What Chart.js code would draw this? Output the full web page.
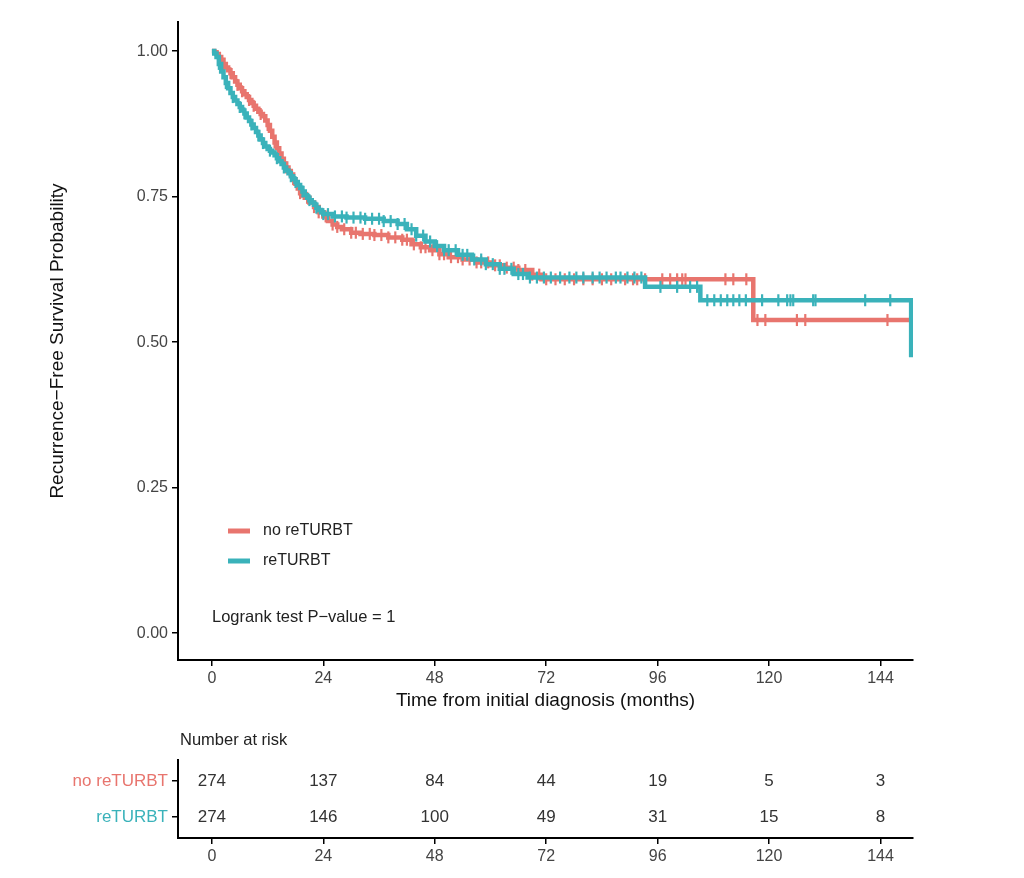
<!DOCTYPE html>
<html>
<head>
<meta charset="utf-8">
<script src="https://cdn.jsdelivr.net/npm/chart.js@4"></script>
<style>
  body { margin: 0; background: #fff; }
  #wrap { position: relative; width: 1024px; height: 878px; }
  #km { position: absolute; left: 0; top: 0; }
  #risk { position: absolute; left: 0; top: 715px; }
</style>
</head>
<body>
<div id="wrap">
  <canvas id="km" width="1024" height="715"></canvas>
  <canvas id="risk" width="1024" height="163"></canvas>
</div>
<script>
const groups = ['no reTURBT', 'reTURBT'];
const colRed = 'rgb(232,117,110)';
const colTeal = 'rgb(58,178,186)';

// Kaplan-Meier steps (months, survival)
const noReTime = [0, 0.5, 1, 1.5, 2, 2.5, 3, 3.5, 4, 4.5, 5, 5.5, 6, 6.5, 7, 7.5, 8, 8.5, 9, 9.5, 10, 10.5, 11, 11.5, 12, 12.5, 13, 13.5, 14, 14.5, 15, 15.5, 16, 16.5, 17, 17.5, 18, 18.5, 19, 19.5, 20, 21, 22, 23, 24, 25, 26, 27, 28, 30, 32, 35, 38, 41, 43, 45, 47, 49, 51, 54, 57, 60, 63, 66, 69, 71, 116.6, 150.4];
const noReSurv = [1.0, 0.998, 0.995, 0.99, 0.985, 0.978, 0.972, 0.967, 0.962, 0.955, 0.948, 0.942, 0.936, 0.931, 0.926, 0.921, 0.916, 0.911, 0.906, 0.901, 0.896, 0.892, 0.888, 0.881, 0.873, 0.863, 0.853, 0.843, 0.833, 0.824, 0.815, 0.807, 0.800, 0.794, 0.788, 0.780, 0.772, 0.764, 0.756, 0.752, 0.748, 0.740, 0.732, 0.723, 0.716, 0.708, 0.702, 0.698, 0.694, 0.688, 0.686, 0.684, 0.680, 0.676, 0.668, 0.663, 0.658, 0.651, 0.646, 0.642, 0.637, 0.632, 0.628, 0.624, 0.616, 0.608, 0.538, 0.538];

const reTime = [0, 0.5, 1, 1.5, 2, 2.5, 3, 3.5, 4, 4.5, 5, 5.5, 6, 6.5, 7, 7.5, 8, 8.5, 9, 9.5, 10, 10.5, 11, 11.5, 12, 12.5, 13, 13.5, 14, 14.5, 15, 15.5, 16, 16.5, 17, 17.5, 18, 18.5, 19, 19.5, 20, 20.5, 21, 21.5, 22, 22.5, 23, 23.5, 24, 26, 29, 33, 37, 40, 42, 44, 46, 48, 50, 53, 56, 59, 62, 65, 68, 93.3, 105.2, 150.6];
const reSurv = [1.0, 0.996, 0.99, 0.978, 0.965, 0.955, 0.945, 0.936, 0.928, 0.921, 0.915, 0.909, 0.904, 0.898, 0.893, 0.886, 0.880, 0.874, 0.868, 0.861, 0.855, 0.848, 0.842, 0.836, 0.832, 0.829, 0.826, 0.821, 0.816, 0.811, 0.806, 0.800, 0.795, 0.790, 0.785, 0.780, 0.775, 0.770, 0.765, 0.759, 0.753, 0.748, 0.744, 0.740, 0.736, 0.731, 0.727, 0.723, 0.720, 0.716, 0.714, 0.712, 0.708, 0.703, 0.694, 0.683, 0.673, 0.665, 0.658, 0.650, 0.642, 0.634, 0.626, 0.617, 0.611, 0.595, 0.572, 0.474];

// censoring times (months)
const noReCensor = [2.5, 4, 5.5, 6.5, 8, 9, 10.5, 12, 13.5, 15, 16, 17.5, 19, 20.5, 22, 23, 24.5, 26, 27, 28.5, 30, 31, 32.5, 34, 35, 36.5, 38, 39.5, 41, 42, 43.5, 45, 46, 47.5, 49, 50, 51.5, 53, 54, 55.5, 57, 58, 59.5, 61, 62, 63.5, 65, 66, 67.5, 69, 70.5, 72, 74, 76, 78, 80, 82, 84, 86, 89, 90.7, 91.6, 93.3, 97, 98.7, 100.2, 101.3, 102, 110.6, 112.3, 115.1, 117.5, 119.2, 126, 127.8, 145.5];
const reCensor = [1.5, 3, 4.5, 6, 7, 8.5, 10, 11, 12.5, 14, 15.5, 17, 18, 19.5, 21, 22.5, 24, 25, 26.5, 28, 29, 30.5, 32, 33, 34.5, 36, 37, 38.5, 40, 41.5, 43, 44, 45.5, 47, 48.5, 50, 51, 52.5, 54, 55, 56.5, 58, 59, 60.5, 62, 63, 64.5, 66, 67, 68.5, 70, 71.5, 73, 75, 77, 78.5, 80, 82, 83.5, 85, 87, 88, 89.5, 91, 92.5, 96.6, 100.2, 103, 104.5, 106.7, 108.2, 109.6, 111, 112.3, 113.6, 115, 118.5, 122, 123.9, 124.6, 125.2, 129.5, 130, 140.7, 146.1];

const riskTimes = [0, 24, 48, 72, 96, 120, 144];
const riskNoRe = [274, 137, 84, 44, 19, 5, 3];
const riskRe = [274, 146, 100, 49, 31, 15, 8];

const xTicks = [0, 24, 48, 72, 96, 120, 144];
const yTicks = [0, 0.25, 0.5, 0.75, 1];

function survAt(times, surv, t) {
  let s = surv[0];
  for (let i = 0; i < times.length; i++) {
    if (times[i] <= t) s = surv[i];
  }
  return s;
}
function pts(times, vals) {
  return times.map((t, i) => ({ x: t, y: vals[i] }));
}
function censorPts(cens, times, surv) {
  return cens.map(t => ({ x: t, y: survAt(times, surv, t) }));
}

const FAM = 'Liberation Sans, Arial, sans-serif';
const tickFont = { family: FAM, size: 16 };
const titleFont = { family: FAM, size: 19 };

const annot = {
  id: 'annot',
  afterDraw(chart) {
    const ctx = chart.ctx;
    ctx.save();
    ctx.textBaseline = 'middle';
    ctx.lineWidth = 5;
    ctx.strokeStyle = colRed;
    ctx.beginPath(); ctx.moveTo(228, 531); ctx.lineTo(250, 531); ctx.stroke();
    ctx.strokeStyle = colTeal;
    ctx.beginPath(); ctx.moveTo(228, 561); ctx.lineTo(250, 561); ctx.stroke();
    ctx.fillStyle = '#222';
    ctx.font = '16px ' + FAM;
    ctx.fillText(groups[0], 263, 531);
    ctx.fillText(groups[1], 263, 561);
    ctx.font = '16.5px ' + FAM;
    ctx.fillText('Logrank test P\u2212value = 1', 212, 617);
    ctx.restore();
  }
};

new Chart(document.getElementById('km'), {
  type: 'line',
  data: {
    datasets: [
      { type: 'line', data: pts(reTime, reSurv), borderColor: colTeal, borderWidth: 4.5, stepped: true, pointRadius: 0, fill: false },
      { type: 'scatter', data: censorPts(reCensor, reTime, reSurv), borderColor: colTeal, backgroundColor: colTeal, pointStyle: 'line', rotation: 90, pointRadius: 6, borderWidth: 2.2, showLine: false },
      { type: 'line', data: pts(noReTime, noReSurv), borderColor: colRed, borderWidth: 4.5, stepped: true, pointRadius: 0, fill: false },
      { type: 'scatter', data: censorPts(noReCensor, noReTime, noReSurv), borderColor: colRed, backgroundColor: colRed, pointStyle: 'line', rotation: 90, pointRadius: 6, borderWidth: 2.2, showLine: false }
    ]
  },
  options: {
    responsive: false,
    animation: false,
    layout: { padding: { left: 45, right: 111, top: 22, bottom: 0 } },
    plugins: { legend: { display: false }, tooltip: { enabled: false } },
    scales: {
      x: {
        type: 'linear', min: -7.3, max: 151,
        afterBuildTicks: s => { s.ticks = xTicks.map(v => ({ value: v })); },
        afterFit: s => { s.height = 55; },
        grid: { drawOnChartArea: false, drawTicks: true, tickLength: 6, color: '#000', lineWidth: 1.5 },
        border: { color: '#000', width: 2 },
        ticks: { font: tickFont, color: '#444', padding: 3, maxRotation: 0 },
        title: { display: true, text: 'Time from initial diagnosis (months)', font: titleFont, color: '#111', padding: { top: 0, bottom: 3 } }
      },
      y: {
        type: 'linear', min: -0.046, max: 1.05,
        afterBuildTicks: s => { s.ticks = yTicks.map(v => ({ value: v })); },
        afterFit: s => { s.width = 133; },
        grid: { drawOnChartArea: false, drawTicks: true, tickLength: 6, color: '#000', lineWidth: 1.5 },
        border: { color: '#000', width: 2 },
        ticks: { font: tickFont, color: '#444', padding: 4, callback: v => v.toFixed(2) },
        title: { display: true, text: 'Recurrence\u2212Free Survival Probability', font: titleFont, color: '#111', padding: { top: 1, bottom: 0 } }
      }
    }
  },
  plugins: [annot]
});

const riskText = {
  id: 'riskText',
  afterDatasetsDraw(chart) {
    const ctx = chart.ctx;
    ctx.save();
    ctx.font = '17px ' + FAM;
    ctx.fillStyle = '#333';
    ctx.textAlign = 'center';
    ctx.textBaseline = 'middle';
    chart.data.datasets.forEach((ds, di) => {
      chart.getDatasetMeta(di).data.forEach((pt, i) => {
        ctx.fillText(String(ds.counts[i]), pt.x, pt.y);
      });
    });
    ctx.textAlign = 'left';
    ctx.font = '16.5px ' + FAM;
    ctx.fillStyle = '#222';
    ctx.fillText('Number at risk', chart.chartArea.left + 2, 25);
    ctx.restore();
  }
};

new Chart(document.getElementById('risk'), {
  type: 'scatter',
  data: {
    datasets: [
      { data: riskTimes.map(t => ({ x: t, y: 0 })), counts: riskNoRe, pointRadius: 0 },
      { data: riskTimes.map(t => ({ x: t, y: 1 })), counts: riskRe, pointRadius: 0 }
    ]
  },
  options: {
    responsive: false,
    animation: false,
    layout: { padding: { left: 0, right: 111, top: 45, bottom: 0 } },
    plugins: { legend: { display: false }, tooltip: { enabled: false } },
    scales: {
      x: {
        type: 'linear', min: -7.3, max: 151,
        afterBuildTicks: s => { s.ticks = xTicks.map(v => ({ value: v })); },
        afterFit: s => { s.height = 40; },
        grid: { drawOnChartArea: false, drawTicks: true, tickLength: 6, color: '#000', lineWidth: 1.5 },
        border: { color: '#000', width: 2 },
        ticks: { font: { family: FAM, size: 16 }, color: '#444', padding: 3, maxRotation: 0 }
      },
      y: {
        type: 'linear', reverse: true, min: -0.58, max: 1.58,
        afterBuildTicks: s => { s.ticks = [0, 1].map(v => ({ value: v })); },
        afterFit: s => { s.width = 178; },
        grid: { drawOnChartArea: false, drawTicks: true, tickLength: 6, color: '#000', lineWidth: 1.5 },
        border: { color: '#000', width: 2 },
        ticks: {
          font: { family: FAM, size: 17 },
          padding: 4,
          color: c => (c.tick && c.tick.value === 0 ? colRed : colTeal),
          callback: v => groups[v]
        }
      }
    }
  },
  plugins: [riskText]
});
</script>
</body>
</html>
